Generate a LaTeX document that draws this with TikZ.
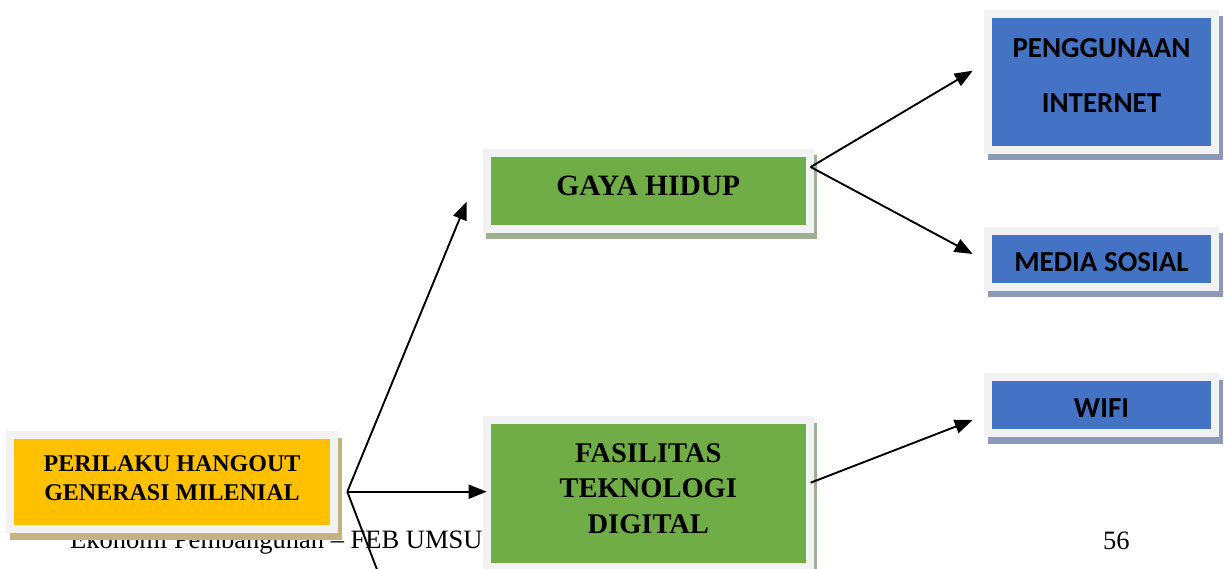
\documentclass[tikz,border=0pt]{standalone}
\usepackage{fontspec}
\setmainfont{Liberation Serif}
\newfontfamily\calibrifont{Carlito}
\usetikzlibrary{arrows.meta,calc}
\definecolor{framegray}{RGB}{242,242,242}
\definecolor{yelfill}{RGB}{255,192,0}
\definecolor{grnfill}{RGB}{112,173,71}
\definecolor{blufill}{RGB}{68,114,196}
\definecolor{yelshadow}{RGB}{196,178,128}
\definecolor{grnshadow}{RGB}{158,176,146}
\definecolor{blushadow}{RGB}{140,154,184}
\tikzset{
  box/.style n args={2}{draw=framegray, line width=8pt, fill=#1, inner sep=0pt, outer sep=0pt,
    preaction={draw=#2, fill=#2, line width=8pt, transform canvas={shift={(3.5pt,-6.5pt)}}}},
  ybox/.style={box={yelfill}{yelshadow}},
  gbox/.style={box={grnfill}{grnshadow}},
  bbox/.style={box={blufill}{blushadow}},
  arr/.style={line width=1.9pt, -{Triangle[length=18pt,width=14pt]}},
  plainline/.style={line width=1.9pt},
}
\begin{document}
\begin{tikzpicture}[x=1pt,y=-1pt]
\useasboundingbox (0,0) rectangle (1226,569);
\clip (0,0) rectangle (1226,569);
% footer text (behind the boxes)
\node[anchor=base west, inner sep=0pt, font=\fontsize{26.5}{30}\selectfont] (foot) at (70,548) {Ekonomi Pembangunan -- FEB UMSU};
\node[anchor=base west, inner sep=0pt, font=\fontsize{26.5}{30}\selectfont] (page) at (1103,549) {56};
% boxes
\node[ybox, minimum width=324pt, minimum height=94pt,
  label={[name=yelt, yshift=4pt, align=center, font=\bfseries\fontsize{24}{29.5}\selectfont]center:PERILAKU HANGOUT\\GENERASI MILENIAL}]
  (yel) at (172,482) {};
\node[gbox, minimum width=323.3pt, minimum height=76pt,
  label={[name=gayat, yshift=5pt, font=\bfseries\fontsize{29.5}{34}\selectfont]center:GAYA HIDUP}]
  (gaya) at (648.3,191) {};
\node[gbox, minimum width=323.3pt, minimum height=147pt,
  label={[name=fast, yshift=5pt, align=center, font=\bfseries\fontsize{28.5}{35.5}\selectfont]center:FASILITAS\\TEKNOLOGI\\DIGITAL}]
  (fas) at (648.3,493.5) {};
\node[bbox, minimum width=227pt, minimum height=136pt,
  label={[name=pengt, yshift=7pt, align=center, font=\calibrifont\bfseries\fontsize{29}{55}\selectfont]center:PENGGUNAAN\\INTERNET}]
  (peng) at (1101.5,82) {};
\node[bbox, minimum width=227pt, minimum height=56pt,
  label={[name=mediat, yshift=-3pt, font=\calibrifont\bfseries\fontsize{29}{34}\selectfont]center:MEDIA SOSIAL}]
  (media) at (1101.5,259) {};
\node[bbox, minimum width=227pt, minimum height=56pt,
  label={[name=wifit, yshift=-3pt, font=\calibrifont\bfseries\fontsize{29}{34}\selectfont]center:WIFI}]
  (wifi) at (1101.5,405) {};
% connectors
\coordinate (yO) at ([xshift=13.3pt,yshift=-9.7pt]yel.east);
\coordinate (gO) at ([xshift=0.7pt,yshift=-14pt]gaya.north east);
\coordinate (fO) at ([xshift=0.7pt,yshift=10.8pt]fas.east);
\coordinate (yDown) at (381,580);
\draw[arr] (yO) -- ([xshift=-20pt,yshift=27.3pt]gaya.south west);
\draw[arr] (yO) -- (yO -| fas.west);
\draw[plainline] (yO) -- (yDown);
\draw[arr] (gO) -- ([xshift=-15.3pt,yshift=11.3pt]peng.west);
\draw[arr] (gO) -- ([xshift=-15.3pt,yshift=5pt]media.west);
\draw[arr] (fO) -- ([xshift=-15.3pt,yshift=-15pt]wifi.west);
\end{tikzpicture}
\end{document}
